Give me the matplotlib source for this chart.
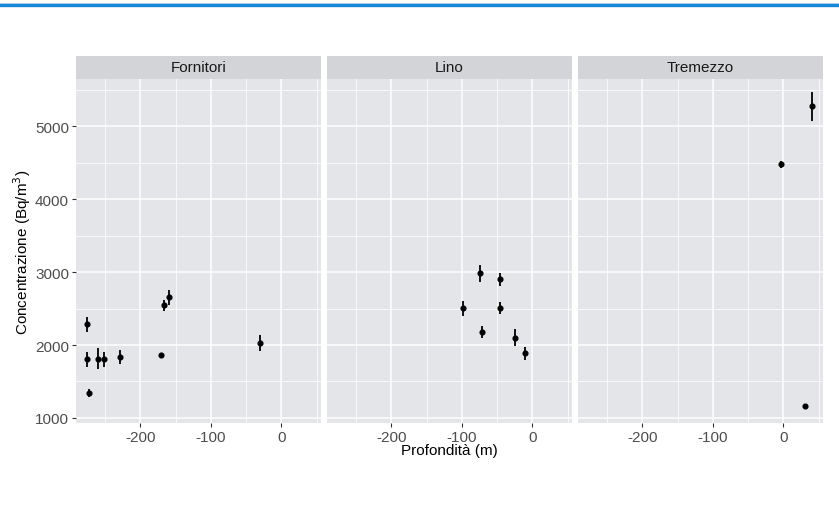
import matplotlib.pyplot as plt
import numpy as np

plt.rcParams['font.family'] = ['Liberation Sans', 'DejaVu Sans']
plt.rcParams['axes.unicode_minus'] = False

# data: depth (m), concentration (Bq/m3), error half-width
sites = ['Fornitori', 'Lino', 'Tremezzo']

forn_depth = [-275, -276, -273, -260, -252, -228, -170, -167, -159, -31]
forn_conc = [2285, 1803, 1343, 1812, 1803, 1835, 1863, 2545, 2652, 2030]
forn_err = [100, 100, 60, 145, 100, 100, 30, 75, 100, 110]

lino_depth = [-75, -46, -98, -46, -72, -25, -10]
lino_conc = [2986, 2903, 2503, 2508, 2183, 2100, 1886]
lino_err = [115, 90, 100, 80, 80, 120, 90]

trem_depth = [40, -4, 31]
trem_conc = [5278, 4480, 1162]
trem_err = [200, 50, 30]

series = [(forn_depth, forn_conc, forn_err),
          (lino_depth, lino_conc, lino_err),
          (trem_depth, trem_conc, trem_err)]

W, H = 839, 506
fig = plt.figure(figsize=(W / 100, H / 100), dpi=100)

# thin blue rule across the top
fig.add_artist(plt.Line2D([0, 1], [1 - 4.5 / H, 1 - 4.5 / H], color='#a9d2f0', lw=1.2))
fig.add_artist(plt.Line2D([0, 1], [1 - 6 / H, 1 - 6 / H], color='#1787d6', lw=2.4))

panel_bg = '#e3e5e8'
strip_bg = '#d2d4d7'
lefts = [76, 327, 578]
pw = 245
top, strip_top, bottom = 80, 57, 424
fs = 11

for i, (name, (x, y, e)) in enumerate(zip(sites, series)):
    ax = fig.add_axes([lefts[i] / W, 1 - bottom / H, pw / W, (bottom - top) / H])
    ax.set_facecolor(panel_bg)
    ax.errorbar(x, y, yerr=e, fmt='o', color='black', ms=3.4, elinewidth=1.3, capsize=0)
    ax.set_xlim(-291, 56)
    ax.set_ylim(930, 5650)
    ax.set_xticks([-200, -100, 0])
    ax.set_xticks([-250, -150, -50, 50], minor=True)
    ax.set_yticks([1000, 2000, 3000, 4000, 5000])
    ax.set_yticks([1500, 2500, 3500, 4500, 5500], minor=True)
    ax.grid(True, which='major', color='white', lw=1.1)
    ax.grid(True, which='minor', color='white', lw=0.55)
    ax.set_axisbelow(True)
    for s in ax.spines.values():
        s.set_visible(False)
    ax.tick_params(which='minor', length=0)
    ax.tick_params(which='major', length=3, width=0.8, color='#333333',
                   labelsize=fs, labelcolor='#4d4d4d', pad=2)
    if i > 0:
        ax.tick_params(axis='y', left=False, labelleft=False)

    # facet strip
    sax = fig.add_axes([lefts[i] / W, 1 - top / H, pw / W, (top - strip_top) / H])
    sax.set_facecolor(strip_bg)
    sax.set_xticks([])
    sax.set_yticks([])
    for s in sax.spines.values():
        s.set_visible(False)
    sax.text(0.5, 0.5, name, ha='center', va='center', fontsize=fs, color='#1a1a1a',
             transform=sax.transAxes)

fig.text(22 / W, 1 - 252 / H, 'Concentrazione (Bq/m$^3$)', rotation=90,
         ha='center', va='center', fontsize=fs)
fig.text(449 / W, 1 - 451 / H, 'Profondità (m)', ha='center', va='center', fontsize=fs)

fig.savefig('out.png', dpi=100)
